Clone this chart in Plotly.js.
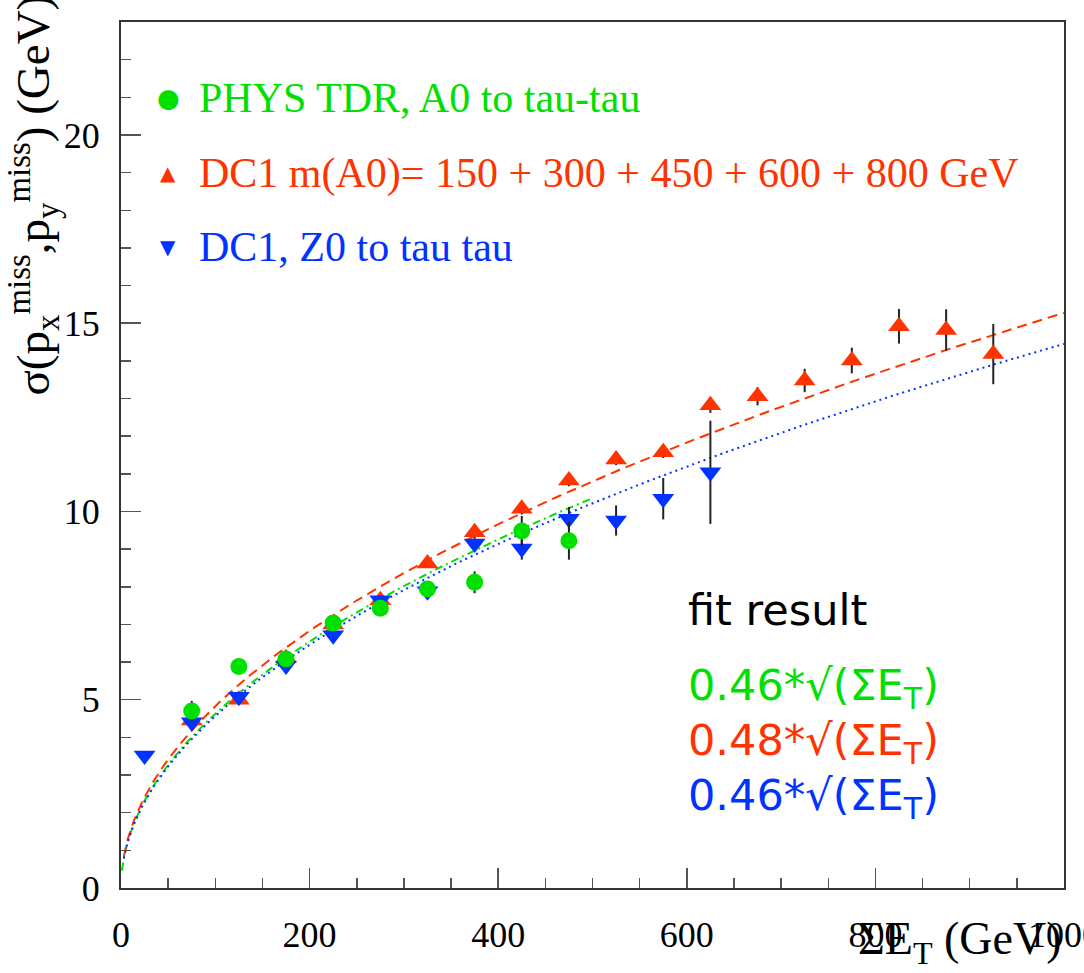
<!DOCTYPE html>
<html>
<head>
<meta charset="utf-8">
<script src="https://cdn.plot.ly/plotly-3.0.1.min.js"></script>
<style>html,body{margin:0;padding:0;background:#fff;}</style>
</head>
<body>
<div id="chart" style="width:1084px;height:973px;"></div>
<script>
// ---- data ----
const greenX = [75, 125, 175, 225, 275, 325, 375, 425, 475];
const greenY = [4.70, 5.88, 6.08, 7.04, 7.43, 7.94, 8.12, 9.48, 9.22];
const greenErr = [0.27, 0.12, 0.12, 0.12, 0.12, 0.14, 0.29, 0.40, 0.50];

const redX = [75, 125, 175, 225, 275, 325, 375, 425, 475, 525, 575, 625, 675, 725, 775, 825, 875, 925];
const redY = [4.45, 5.00, 6.10, 7.00, 7.64, 8.62, 9.45, 10.07, 10.82, 11.38, 11.57, 12.82, 13.06, 13.48, 14.01, 14.92, 14.82, 14.18];
const redErr = [0.12, 0.10, 0.10, 0.10, 0.10, 0.10, 0.15, 0.15, 0.15, 0.15, 0.15, 0.20, 0.24, 0.31, 0.34, 0.46, 0.55, 0.80];

const blueX = [25, 75, 125, 175, 225, 275, 325, 375, 425, 475, 525, 575, 625];
const blueY = [3.52, 4.40, 5.08, 5.91, 6.71, 7.64, 7.88, 9.15, 9.02, 9.81, 9.76, 10.34, 11.04];
const blueErr = [0.08, 0.12, 0.10, 0.10, 0.10, 0.10, 0.12, 0.15, 0.30, 0.31, 0.40, 0.55, 1.37];

// fit: sigma = a * sqrt(SumET), drawn over the fitted range
const fitNames = ["green", "red", "blue"];
const fitCoef = [0.463, 0.483, 0.457];
const fitXmin = [1, 3, 3];
const fitXmax = [500, 1000, 1000];

const legendLabels = ["PHYS TDR, A0 to tau-tau", "DC1 m(A0)= 150 + 300 + 450 + 600 + 800 GeV", "DC1, Z0 to tau tau"];
const legendGlyphs = ["\u25CF", "\u25B2", "\u25BC"];
const fitLabels = ["0.46*\u221A(\u03A3E<sub>T</sub>)", "0.48*\u221A(\u03A3E<sub>T</sub>)", "0.46*\u221A(\u03A3E<sub>T</sub>)"];

const xTickVals = [0, 200, 400, 600, 800, 1000];
const yTickVals = [0, 5, 10, 15, 20];

// ---- style ----
const COL = {green: "#00e000", red: "#ff3300", blue: "#0033ff"};
const dashes = {green: "8px,4px,2px,4px", red: "10px,6px", blue: "2px,4px"};
const serif = "Liberation Serif, Times New Roman, serif";
const sans = "DejaVu Sans, sans-serif";

function fitCurve(i) {
  const xs = [], ys = [];
  const n = 200;
  for (let k = 0; k <= n; k++) {
    const t = k / n;
    const x = fitXmin[i] + (fitXmax[i] - fitXmin[i]) * t * t;
    xs.push(x);
    ys.push(fitCoef[i] * Math.sqrt(x));
  }
  return {x: xs, y: ys};
}

const traces = [];
fitNames.forEach((name, i) => {
  const c = fitCurve(i);
  traces.push({
    type: "scatter", mode: "lines", x: c.x, y: c.y,
    line: {color: COL[name], width: 2, dash: dashes[name]},
    hoverinfo: "skip"
  });
});

function pts(x, y, err, color, symbol, size) {
  return {
    type: "scatter", mode: "markers", x: x, y: y,
    marker: {color: color, symbol: symbol, size: size, line: {width: 0}},
    error_y: {type: "data", array: err, visible: true, color: "#222", thickness: 2, width: 0}
  };
}
traces.push(pts(redX, redY, redErr, COL.red, "triangle-up", 19));
traces.push(pts(blueX, blueY, blueErr, COL.blue, "triangle-down", 19));
traces.push(pts(greenX, greenY, greenErr, COL.green, "circle", 17));

// paper-coordinate helpers (plot area: x 121..1064, y 22..888)
const px = v => (v - 121) / 943;
const py = v => (888 - v) / 866;

const ann = [];
const legendRowY = [98, 173, 247];
const legendCols = [COL.green, COL.red, COL.blue];
const glyphSizes = [26, 20, 20];
legendLabels.forEach((lab, i) => {
  ann.push({xref: "paper", yref: "paper", x: px(168), y: py(legendRowY[i]), xanchor: "center", yanchor: "middle",
    text: legendGlyphs[i], showarrow: false, font: {family: sans, size: glyphSizes[i], color: legendCols[i]}});
  ann.push({xref: "paper", yref: "paper", x: px(197), y: py(legendRowY[i]), xanchor: "left", yanchor: "middle",
    text: lab, showarrow: false, font: {family: serif, size: 42, color: legendCols[i]}});
});
ann.push({xref: "paper", yref: "paper", x: px(686), y: py(610), xanchor: "left", yanchor: "middle",
  text: "fit result", showarrow: false, font: {family: sans, size: 43, color: "#000"}});
const fitRowY = [688, 743, 798];
fitLabels.forEach((lab, i) => {
  ann.push({xref: "paper", yref: "paper", x: px(686), y: py(fitRowY[i]), xanchor: "left", yanchor: "middle",
    text: lab, showarrow: false, font: {family: sans, size: 43, color: legendCols[i]}});
});
// axis titles
ann.push({xref: "paper", yref: "paper", x: 1, y: py(942), xanchor: "right", yanchor: "middle",
  text: "\u03A3E<sub>T</sub> (GeV)", showarrow: false, font: {family: serif, size: 46, color: "#000"}});
ann.push({xref: "paper", yref: "paper", x: px(33), y: py(398), xanchor: "center", yanchor: "bottom", textangle: -90,
  text: "\u03C3(p<sub>x</sub><sup>miss</sup>,p<sub>y</sub><sup>miss</sup>) (GeV)", showarrow: false,
  font: {family: serif, size: 47, color: "#000"}});

const axisCommon = {
  showgrid: false, zeroline: false, showline: true, linecolor: "#333", linewidth: 2, mirror: true,
  ticks: "inside", ticklen: 20, tickwidth: 1.5, tickcolor: "#555", ticklabeloverflow: "allow",
  tickfont: {family: serif, size: 36, color: "#000"}
};

const layout = {
  width: 1084, height: 973,
  margin: {l: 121, r: 20, t: 22, b: 85},
  paper_bgcolor: "#fff", plot_bgcolor: "#fff",
  showlegend: false,
  xaxis: Object.assign({}, axisCommon, {
    range: [0, 1000], tickvals: xTickVals, ticktext: xTickVals.map(String), ticklabelstandoff: 14,
    minor: {dtick: 50, tick0: 0, ticks: "inside", ticklen: 10, tickwidth: 1.5, tickcolor: "#555", showgrid: false}
  }),
  yaxis: Object.assign({}, axisCommon, {
    range: [0, 23], tickvals: yTickVals, ticktext: yTickVals.map(String), ticklabelstandoff: 12,
    minor: {dtick: 1, tick0: 0, ticks: "inside", ticklen: 10, tickwidth: 1.5, tickcolor: "#555", showgrid: false}
  }),
  annotations: ann
};

Plotly.newPlot("chart", traces, layout, {displayModeBar: false, staticPlot: true});
</script>
</body>
</html>
